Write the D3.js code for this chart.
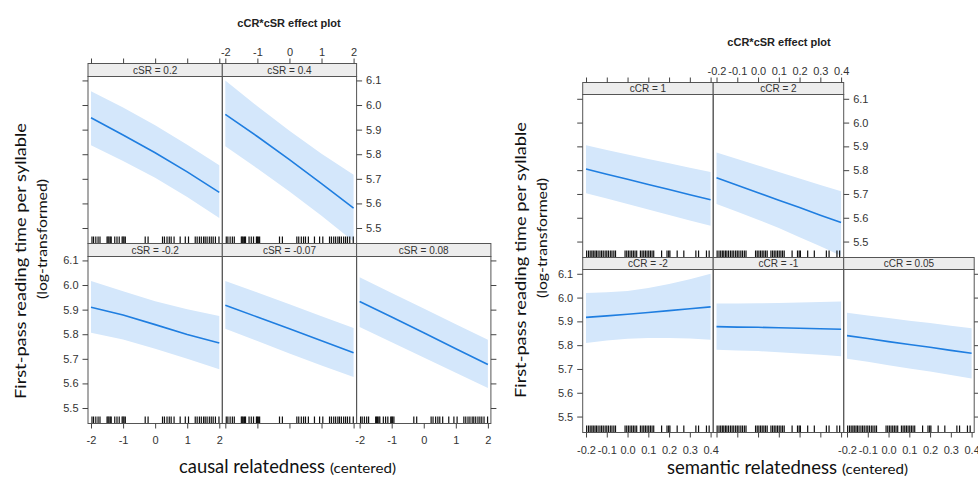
<!DOCTYPE html>
<html>
<head>
<meta charset="utf-8">
<script src="https://cdn.jsdelivr.net/npm/d3@7"></script>
<style>
  body { margin: 0; background: #fff; }
  svg { display: block; }
  .tick text { font-family: "Liberation Sans", Arial, sans-serif; font-size: 11px; fill: #333; }
  .tick line { stroke: #444; }
</style>
</head>
<body>
<svg id="chart" width="978" height="477"></svg>
<script>
// ---- left plot: effect of cCR at five levels of cSR ----
var causalX = [-2, -1, 0, 1, 2];
var causalPanels = ['cSR = -0.2', 'cSR = -0.07', 'cSR = 0.08', 'cSR = 0.2', 'cSR = 0.4'];
var causalFit = [
  [5.910, 5.878, 5.839, 5.799, 5.764],
  [5.918, 5.870, 5.822, 5.773, 5.725],
  [5.933, 5.870, 5.806, 5.741, 5.677],
  [5.948, 5.878, 5.806, 5.728, 5.645],
  [5.962, 5.872, 5.778, 5.680, 5.581]
];
var causalUpper = [
  [6.016, 5.975, 5.934, 5.902, 5.874],
  [6.016, 5.970, 5.922, 5.873, 5.825],
  [6.032, 5.968, 5.905, 5.841, 5.778],
  [6.056, 5.990, 5.918, 5.838, 5.755],
  [6.100, 5.995, 5.895, 5.802, 5.717]
];
var causalLower = [
  [5.806, 5.779, 5.741, 5.700, 5.658],
  [5.822, 5.772, 5.722, 5.673, 5.626],
  [5.829, 5.767, 5.705, 5.643, 5.581],
  [5.836, 5.772, 5.704, 5.626, 5.541],
  [5.832, 5.742, 5.648, 5.550, 5.445]
];
var causalRug = [-1.97, -1.92, -1.85, -1.78, -1.72, -1.50, -1.47, -1.44, -1.40, -1.37,
  -1.26, -1.19, -1.12, -1.03, -1.00, -0.97, -0.93, -0.31, -0.22, 0.23, 0.29, 0.37,
  0.44, 0.50, 0.59, 0.78, 0.94, 1.04, 1.25, 1.31, 1.38, 1.44, 1.51, 1.56, 1.62,
  1.69, 1.75, 1.81, 1.88, 1.99];
var causalTicks = [-2, -1, 0, 1, 2];

// ---- right plot: effect of cSR at five levels of cCR ----
var semanticX = [-0.2, -0.1, 0, 0.1, 0.2, 0.3, 0.4];
var semanticPanels = ['cCR = -2', 'cCR = -1', 'cCR = 0.05', 'cCR = 1', 'cCR = 2'];
var semanticFit = [
  [5.917, 5.923, 5.930, 5.937, 5.945, 5.953, 5.961],
  [5.878, 5.876, 5.875, 5.873, 5.871, 5.869, 5.867],
  [5.840, 5.828, 5.815, 5.803, 5.791, 5.778, 5.766],
  [5.805, 5.783, 5.762, 5.740, 5.719, 5.697, 5.676],
  [5.768, 5.737, 5.705, 5.674, 5.643, 5.611, 5.580]
];
var semanticUpper = [
  [6.019, 6.022, 6.028, 6.040, 6.057, 6.077, 6.100],
  [5.975, 5.975, 5.976, 5.977, 5.979, 5.981, 5.984],
  [5.936, 5.925, 5.914, 5.903, 5.893, 5.882, 5.871],
  [5.905, 5.885, 5.866, 5.847, 5.829, 5.810, 5.792],
  [5.874, 5.847, 5.820, 5.792, 5.765, 5.738, 5.711]
];
var semanticLower = [
  [5.809, 5.820, 5.827, 5.830, 5.830, 5.828, 5.823],
  [5.781, 5.778, 5.775, 5.770, 5.765, 5.760, 5.753],
  [5.743, 5.730, 5.716, 5.702, 5.689, 5.675, 5.660],
  [5.703, 5.681, 5.658, 5.635, 5.612, 5.589, 5.566],
  [5.658, 5.625, 5.592, 5.557, 5.518, 5.480, 5.440]
];
var semanticRug = [-0.197, -0.188, -0.180, -0.172, -0.165, -0.157, -0.150, -0.142,
  -0.133, -0.125, -0.117, -0.108, -0.100, -0.092, -0.083, -0.075, -0.066, -0.058,
  -0.012, -0.004, 0.004, 0.012, 0.020, 0.028, 0.036, 0.044,
  0.062, 0.070, 0.078, 0.086, 0.094, 0.102, 0.110, 0.118, 0.126,
  0.164, 0.190, 0.198, 0.204, 0.239, 0.271, 0.329, 0.342, 0.380, 0.393];
var semanticTicks = [-0.2, -0.1, 0, 0.1, 0.2, 0.3, 0.4];

var yTicks = [5.5, 5.6, 5.7, 5.8, 5.9, 6.0, 6.1];

var svg = d3.select('#chart');
var clipId = 0;

/**
 * Draws one lattice-like effect plot: 3 panels at the bottom row,
 * 2 panels at the top row, each with a strip, a band, a line and a rug.
 */
function drawEffectPlot(o) {
  var g = svg.append('g');

  var x = d3.scaleLinear().domain(o.xDomain).range([0, o.panelW]);
  var y = d3.scaleLinear().domain(o.yDomain).range([o.plotH, 0]);

  // row 0 is the bottom one, like lattice fills panels
  var rowTop = function(row) {
    return row === 1 ? o.top : o.top + o.stripH + o.plotH;
  };
  var colLeft = function(col) { return o.left + col * o.panelW; };

  var pts = function(i) {
    return o.xs.map(function(v, j) {
      return { x: v, fit: o.fit[i][j], lo: o.lower[i][j], hi: o.upper[i][j] };
    });
  };

  var area = d3.area()
    .x(function(d) { return x(d.x); })
    .y0(function(d) { return y(d.lo); })
    .y1(function(d) { return y(d.hi); });

  var line = d3.line()
    .x(function(d) { return x(d.x); })
    .y(function(d) { return y(d.fit); });

  o.panels.forEach(function(label, i) {
    var col = i % 3;
    var row = Math.floor(i / 3);
    var px = colLeft(col);
    var sy = rowTop(row);
    var py = sy + o.stripH;

    // strip with the conditioning value
    g.append('rect')
      .attr('x', px).attr('y', sy)
      .attr('width', o.panelW).attr('height', o.stripH)
      .style('fill', '#ededed')
      .style('stroke', '#555');

    g.append('text')
      .attr('x', px + o.panelW / 2)
      .attr('y', sy + o.stripH / 2)
      .attr('dy', '0.36em')
      .attr('text-anchor', 'middle')
      .style('font-family', '"Liberation Sans", Arial, sans-serif')
      .style('font-size', '10px')
      .style('fill', '#333')
      .text(label);

    var id = 'clip' + (clipId++);
    g.append('clipPath').attr('id', id)
      .append('rect')
      .attr('width', o.panelW).attr('height', o.plotH);

    var pg = g.append('g')
      .attr('transform', 'translate(' + px + ',' + py + ')');

    var inner = pg.append('g').attr('clip-path', 'url(#' + id + ')');

    inner.append('path')
      .datum(pts(i))
      .attr('d', area)
      .style('fill', '#d4e7fb')
      .style('stroke', 'none');

    inner.append('path')
      .datum(pts(i))
      .attr('d', line)
      .style('fill', 'none')
      .style('stroke', '#1f7ee0')
      .style('stroke-width', 1.6);

    // rug of the observed values
    inner.selectAll('line.rug')
      .data(o.rug)
      .enter()
      .append('line')
      .attr('class', 'rug')
      .attr('x1', function(d) { return x(d); })
      .attr('x2', function(d) { return x(d); })
      .attr('y1', o.plotH)
      .attr('y2', o.plotH - 7)
      .style('stroke', '#111')
      .style('stroke-width', 1.2);

    pg.append('rect')
      .attr('width', o.panelW).attr('height', o.plotH)
      .style('fill', 'none')
      .style('stroke', '#555');
  });

  // axes, alternating like lattice does
  var noLabel = function() { return ''; };

  var addAxis = function(axis, tx, ty) {
    var a = g.append('g')
      .attr('transform', 'translate(' + tx + ',' + ty + ')')
      .call(axis);
    a.select('.domain').remove();
    return a;
  };

  var yAxisL = function(labels) {
    return d3.axisLeft(y).tickValues(yTicks).tickSize(5.5).tickPadding(4)
      .tickFormat(labels ? function(d) { return d.toFixed(1); } : noLabel);
  };
  var yAxisR = function(labels) {
    return d3.axisRight(y).tickValues(yTicks).tickSize(5.5).tickPadding(4)
      .tickFormat(labels ? function(d) { return d.toFixed(1); } : noLabel);
  };
  var xAxisT = function(labels) {
    return d3.axisTop(x).tickValues(o.ticks).tickSize(5).tickPadding(3)
      .tickFormat(labels ? o.tickFormat : noLabel);
  };
  var xAxisB = function(labels) {
    return d3.axisBottom(x).tickValues(o.ticks).tickSize(5).tickPadding(o.bottomPad)
      .tickFormat(labels ? o.tickFormat : noLabel);
  };

  var topPlotY = rowTop(1) + o.stripH;
  var botPlotY = rowTop(0) + o.stripH;

  addAxis(yAxisL(false), colLeft(0), topPlotY);
  addAxis(yAxisL(true), colLeft(0), botPlotY);
  addAxis(yAxisR(true), colLeft(2), topPlotY);
  addAxis(yAxisR(false), colLeft(3), botPlotY);

  addAxis(xAxisT(false), colLeft(0), rowTop(1));
  addAxis(xAxisT(true), colLeft(1), rowTop(1));

  addAxis(xAxisB(true), colLeft(0), botPlotY + o.plotH);
  addAxis(xAxisB(false), colLeft(1), botPlotY + o.plotH);
  addAxis(xAxisB(true), colLeft(2), botPlotY + o.plotH);

  // title of the effect plot
  g.append('text')
    .attr('x', o.titleX).attr('y', o.titleY)
    .attr('dy', '0.35em')
    .attr('text-anchor', 'middle')
    .style('font-family', '"Liberation Sans", Arial, sans-serif')
    .style('font-size', '11px')
    .style('font-weight', 'bold')
    .style('fill', '#222')
    .text('cCR*cSR effect plot');

  // y axis title, two lines
  g.append('text')
    .attr('transform', 'translate(' + o.yTitleX + ',' + o.yTitleY + ') rotate(-90)')
    .attr('text-anchor', 'middle')
    .attr('textLength', 276)
    .attr('lengthAdjust', 'spacingAndGlyphs')
    .style('font-family', 'Lato, "Open Sans", sans-serif')
    .style('font-size', '16px')
    .style('fill', '#111')
    .text('First-pass reading time per syllable');

  g.append('text')
    .attr('transform', 'translate(' + (o.yTitleX + 21) + ',' + (o.yTitleY - 22) + ') rotate(-90)')
    .attr('text-anchor', 'middle')
    .attr('textLength', 120)
    .attr('lengthAdjust', 'spacingAndGlyphs')
    .style('font-family', 'Lato, "Open Sans", sans-serif')
    .style('font-size', '14px')
    .style('fill', '#111')
    .text('(log-transformed)');

  // x axis title: big name and small "(centered)"
  g.append('text')
    .attr('x', o.xTitleX).attr('y', o.xTitleY)
    .attr('textLength', o.xTitleW)
    .attr('lengthAdjust', 'spacingAndGlyphs')
    .style('font-family', 'Lato, "Open Sans", sans-serif')
    .style('font-size', '19px')
    .style('fill', '#111')
    .text(o.xTitle);

  g.append('text')
    .attr('x', o.xTitleX + o.xTitleW + 5).attr('y', o.xTitleY)
    .attr('textLength', 66)
    .attr('lengthAdjust', 'spacingAndGlyphs')
    .style('font-family', 'Lato, "Open Sans", sans-serif')
    .style('font-size', '14px')
    .style('fill', '#111')
    .text('(centered)');
}

drawEffectPlot({
  left: 88, top: 63.5, panelW: 134.3, stripH: 13, plotH: 167,
  xDomain: [-2.094, 2.094], yDomain: [5.437, 6.116],
  xs: causalX, panels: causalPanels,
  fit: causalFit, upper: causalUpper, lower: causalLower,
  rug: causalRug, ticks: causalTicks,
  tickFormat: function(d) { return String(d); },
  bottomPad: 8,
  titleX: 289, titleY: 23,
  yTitleX: 26, yTitleY: 261,
  xTitle: 'causal relatedness', xTitleX: 179, xTitleY: 473, xTitleW: 146
});

drawEffectPlot({
  left: 582.7, top: 82.5, panelW: 130.5, stripH: 12, plotH: 163,
  xDomain: [-0.216, 0.4125], yDomain: [5.433, 6.118],
  xs: semanticX, panels: semanticPanels,
  fit: semanticFit, upper: semanticUpper, lower: semanticLower,
  rug: semanticRug, ticks: semanticTicks,
  tickFormat: function(d) { return d.toFixed(1); },
  bottomPad: 9,
  titleX: 779, titleY: 42,
  yTitleX: 526, yTitleY: 260,
  xTitle: 'semantic relatedness', xTitleX: 667, xTitleY: 474, xTitleW: 170
});
</script>
</body>
</html>
